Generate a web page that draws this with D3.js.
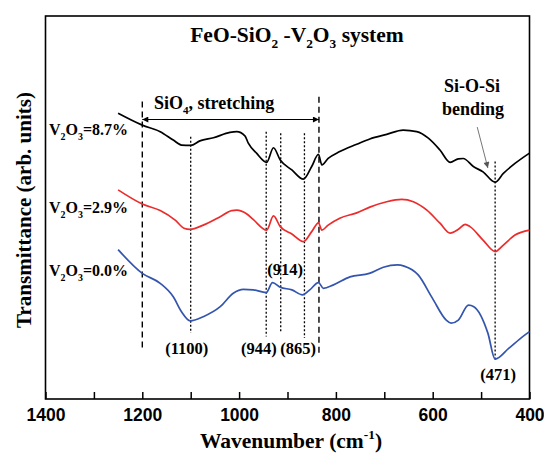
<!DOCTYPE html>
<html><head><meta charset="utf-8">
<script src="https://cdn.jsdelivr.net/npm/d3@7"></script>
<style>body{margin:0;background:#fff}svg{display:block}</style>
</head><body>
<script>
// ---- data (wavenumber in cm^-1, transmittance in arbitrary units) ----
const xTicks = [1400, 1300, 1200, 1100, 1000, 900, 800, 700, 600, 500, 400];
const xTickLabels = ["1400", "", "1200", "", "1000", "", "800", "", "600", "", "400"];

const wave87 = [1250,1200,1163,1136,1119,1100,1081,1053,1019,1005,988,981,964,943,929,915,891,867,850,836,829,816,792,757,730,695,661,633,609,585,564,547,537,516,496,471,454,430,400];
const val87  = [74.6,71.5,69.8,67.6,66.3,66.2,67.4,68.2,69.6,69.8,68.7,66.8,64.2,61.8,65.6,62.4,59.8,57.4,60.7,63.9,61.1,62.8,64.6,66.5,67.9,69.1,70.2,69.8,68.1,65.0,61.8,62.7,62.8,60.7,59.3,56.6,58.9,61.5,64.2];

const wave29 = [1250,1200,1163,1132,1114,1101,1074,1039,1015,1005,984,971,943,929,915,891,867,850,836,829,816,792,757,730,695,664,640,612,585,564,547,533,523,496,471,454,430,400];
const val29  = [54.6,50.9,49.2,46.7,44.6,44.3,45.4,47.6,49.2,49.3,48.3,46.9,44.1,47.8,45.0,43.1,41.1,43.7,46.0,44.1,45.4,47.2,48.6,50.1,51.5,52.1,51.5,49.3,45.9,43.3,44.3,45.6,45.0,41.5,38.5,40.2,42.8,44.1];

const wave00 = [1250,1200,1163,1136,1119,1101,1074,1039,1012,991,971,944,931,915,891,869,854,836,826,805,771,731,702,673,659,630,601,572,562,547,526,515,486,471,443,414,400];
const val00  = [39.0,32.8,30.2,26.7,22.8,20.4,21.5,24.1,27.6,28.6,28.5,27.8,30.4,29.2,28.5,27.2,28.5,30.4,28.9,29.8,31.9,32.8,34.4,35.0,34.7,32.4,26.4,20.6,19.8,20.6,24.5,24.1,17.2,10.4,13.2,16.3,17.6];

const seriesNames  = ["8.7%", "2.9%", "0.0%"];
const seriesColors = ["#000000", "#ec2b2b", "#3455ad"];

// reference lines: wavenumber, top, bottom (arb. units)
const dashedWave = [1200, 835];
const dashedTop  = [77.7, 78.9];
const dashedBot  = [12.8, 12.0];
const dottedWave = [1100, 944, 914, 865, 471];
const dottedTop  = [68.5, 69.8, 69.4, 69.4, 62.0];
const dottedBot  = [17.2, 16.3, 17.6, 15.9, 10.2];

const peakLabels = ["(1100)", "(944)", "(914)", "(865)", "(471)"];
const peakLabelWave = [1108, 959, 905, 878, 465];
const peakLabelVal  = [11.8, 11.8, 32.5, 11.8, 4.9];

// ---- chart ----
const W = 544, H = 453;
const svg = d3.select("body").append("svg").attr("width", W).attr("height", H);
const x = d3.scaleLinear().domain([1400, 400]).range([45.5, 529.5]);
const y = d3.scaleLinear().domain([0, 100]).range([399, 16]);

const serif = "'Liberation Serif','Times New Roman',serif";
const sans = "'Liberation Sans',Arial,sans-serif";

// axis
const ax = svg.append("g").attr("transform", `translate(0,${y(0)})`)
  .call(d3.axisBottom(x).tickValues(xTicks).tickSizeInner(-7).tickSizeOuter(0).tickPadding(10)
    .tickFormat((d, i) => xTickLabels[i]));
ax.select(".domain").remove();
ax.selectAll(".tick line").attr("stroke", "#000").attr("stroke-width", 1.5);
ax.selectAll(".tick text").attr("font-family", sans).attr("font-weight", "bold")
  .attr("font-size", 17.5).attr("fill", "#000");

// frame
svg.append("rect").attr("x", x(1400)).attr("y", y(100))
  .attr("width", x(400) - x(1400)).attr("height", y(0) - y(100))
  .attr("fill", "none").attr("stroke", "#000").attr("stroke-width", 1.6);

// reference lines
dashedWave.forEach((w, i) => {
  svg.append("line").attr("x1", x(w)).attr("x2", x(w)).attr("y1", y(dashedTop[i])).attr("y2", y(dashedBot[i]))
    .attr("stroke", "#000").attr("stroke-width", 1.4).attr("stroke-dasharray", "6,4");
});
dottedWave.forEach((w, i) => {
  svg.append("line").attr("x1", x(w)).attr("x2", x(w)).attr("y1", y(dottedTop[i])).attr("y2", y(dottedBot[i]))
    .attr("stroke", "#000").attr("stroke-width", 1.3).attr("stroke-dasharray", "2,2");
});

// spectra
const line = d3.line().x(d => x(d[0])).y(d => y(d[1])).curve(d3.curveMonotoneX);
[[wave87, val87], [wave29, val29], [wave00, val00]].forEach((s, i) => {
  svg.append("path").datum(d3.zip(s[0], s[1])).attr("d", line)
    .attr("fill", "none").attr("stroke", seriesColors[i]).attr("stroke-width", 1.7)
    .attr("stroke-linejoin", "round");
});

// helper for text with sub/superscripts: parts = [[text, shift]] shift: 0 normal, 1 sub, -1 sup
function rich(g, parts, size) {
  const t = g.append("text").attr("font-family", serif).attr("font-weight", "bold")
    .attr("font-size", size).attr("fill", "#000");
  let cur = 0;
  parts.forEach(([s, k]) => {
    const target = k === 1 ? size * 0.3 : k === -1 ? -size * 0.4 : 0;
    t.append("tspan").attr("dy", target - cur).attr("font-size", k ? size * 0.62 : size).text(s);
    cur = target;
  });
  return t;
}

// title
rich(svg, [["FeO-SiO",0],["2",1],[" -V",0],["2",1],["O",0],["3",1],[" system",0]], 21.5)
  .attr("x", 297).attr("y", 42).attr("text-anchor", "middle");

// x label
rich(svg, [["Wavenumber (cm",0],["-1",-1],[")",0]], 21.5)
  .attr("x", 291).attr("y", 448).attr("text-anchor", "middle");

// y label
svg.append("text").attr("transform", "translate(31,210) rotate(-90)").attr("text-anchor", "middle")
  .attr("font-family", serif).attr("font-weight", "bold").attr("font-size", 21).text("Transmittance (arb. units)");

// series labels
const labelVals = [69.0, 48.6, 32.1];
seriesNames.forEach((n, i) => {
  rich(svg, [["V",0],["2",1],["O",0],["3",1],["=" + n,0]], 16).attr("x", 49).attr("y", y(labelVals[i]));
});

// SiO4 stretching
rich(svg, [["SiO",0],["4",1],[", stretching",0]], 18).attr("x", 154).attr("y", 109);
const defs = svg.append("defs");
defs.append("marker").attr("id", "ah").attr("viewBox", "0 0 10 10").attr("refX", 10).attr("refY", 5)
  .attr("markerWidth", 10).attr("markerHeight", 6).attr("markerUnits", "userSpaceOnUse").attr("orient", "auto-start-reverse")
  .append("path").attr("d", "M0,0L10,5L0,10z").attr("fill", "#000");
svg.append("line").attr("x1", x(1200)).attr("x2", x(835)).attr("y1", 119.5).attr("y2", 119.5)
  .attr("stroke", "#000").attr("stroke-width", 1.2)
  .attr("marker-start", "url(#ah)").attr("marker-end", "url(#ah)");

// Si-O-Si bending
rich(svg, [["Si-O-Si",0]], 18).attr("x", 472).attr("y", 92).attr("text-anchor", "middle");
rich(svg, [["bending",0]], 18).attr("x", 473).attr("y", 115).attr("text-anchor", "middle");
defs.append("marker").attr("id", "ag").attr("viewBox", "0 0 10 10").attr("refX", 10).attr("refY", 5)
  .attr("markerWidth", 8).attr("markerHeight", 6).attr("markerUnits", "userSpaceOnUse").attr("orient", "auto")
  .append("path").attr("d", "M0,0L10,5L0,10z").attr("fill", "#555");
svg.append("line").attr("x1", x(508)).attr("y1", y(71.0)).attr("x2", x(486)).attr("y2", y(60.3))
  .attr("stroke", "#666").attr("stroke-width", 0.9).attr("marker-end", "url(#ag)");

// peak labels
peakLabels.forEach((t, i) => {
  rich(svg, [[t,0]], 16.5).attr("x", x(peakLabelWave[i])).attr("y", y(peakLabelVal[i])).attr("text-anchor", "middle");
});
</script>
</body></html>
